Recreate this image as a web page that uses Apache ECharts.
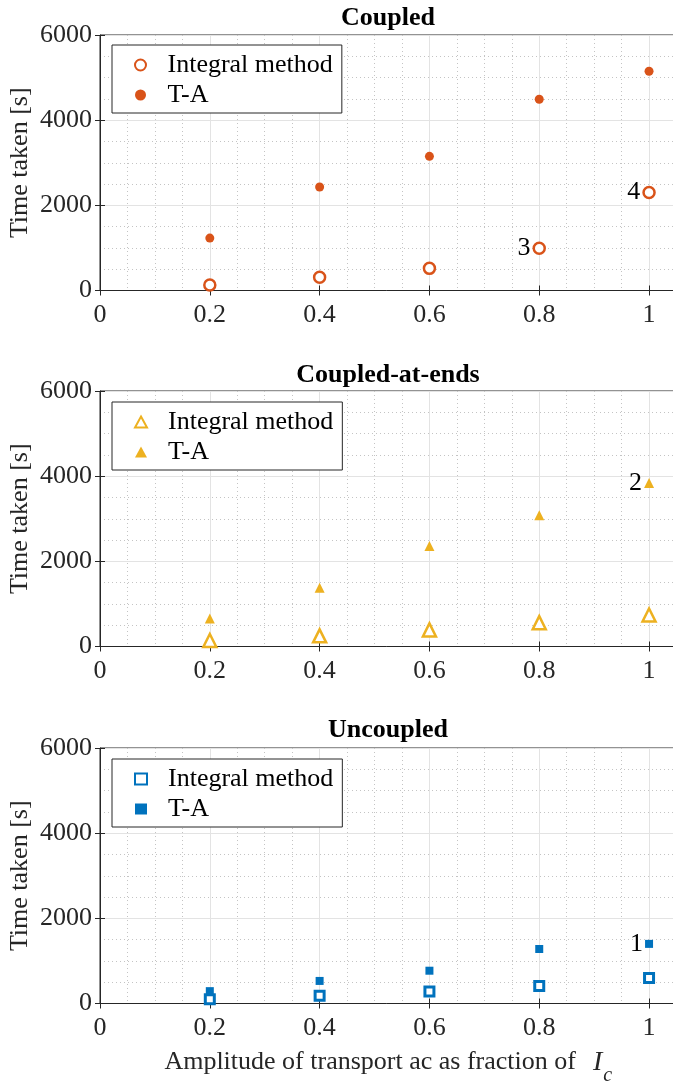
<!DOCTYPE html>
<html>
<head>
<meta charset="utf-8">
<script src="https://cdn.jsdelivr.net/npm/echarts@6/dist/echarts.min.js"></script>
<style>
  html, body { margin: 0; padding: 0; background: #fff; }
  #main { width: 673px; height: 1085px; }
</style>
</head>
<body>
<div id="main"></div>
<script>
// 数据
var xValues = [0.2, 0.4, 0.6, 0.8, 1.0];
var panelTitles = ['Coupled', 'Coupled-at-ends', 'Uncoupled'];
var seriesNames = ['Integral method', 'T-A'];

var coupledIntegral = [130, 310, 520, 990, 2300];
var coupledTA = [1230, 2430, 3150, 4490, 5150];
var endsIntegral = [140, 250, 390, 560, 740];
var endsTA = [660, 1380, 2360, 3080, 3840];
var uncoupledIntegral = [100, 180, 280, 410, 600];
var uncoupledTA = [290, 530, 770, 1280, 1400];

var yTicks = [0, 2000, 4000, 6000];
var xTicks = [0, 0.2, 0.4, 0.6, 0.8, 1];

// 数字标注: [面板, 系列, 点的序号, 文字]
var annotations = [
  [0, 0, 3, '3'],
  [0, 0, 4, '4'],
  [1, 1, 4, '2'],
  [2, 1, 4, '1']
];

var panelData = [
  [coupledIntegral, coupledTA],
  [endsIntegral, endsTA],
  [uncoupledIntegral, uncoupledTA]
];
var colors = ['#D95319', '#EDB120', '#0072BD'];
var symbols = [['circle', 'circle'], ['triangle', 'triangle'], ['rect', 'rect']];
var symbolSizes = [[11, 9], [13, 10], [9, 8]];
var hollowWidths = [2.5, 2.5, 3];

var FONT = "'Liberation Serif', 'DejaVu Serif', serif";
var gridTops = [35, 391, 748];
var legendTops = [45, 402, 759];
var titleTops = [5, 362, 717];

var myChart = echarts.init(document.getElementById('main'));

var grids = [], xAxes = [], yAxes = [], series = [], legends = [], titles = [];
for (var g = 0; g < 3; g++) {
  grids.push({
    left: 100, top: gridTops[g], width: 576.5, height: 255.5,
    outerBoundsMode: 'none', containLabel: false,
    show: true, borderColor: '#262626', borderWidth: 1, backgroundColor: 'transparent'
  });
  titles.push({
    text: panelTitles[g], left: 388, top: titleTops[g], textAlign: 'center', padding: 0,
    textStyle: { fontFamily: FONT, fontSize: 26, fontWeight: 'bold', color: '#000' }
  });
  // 次网格 x
  xAxes.push({
    type: 'value', gridIndex: g, position: 'bottom', min: 0, max: 1.05, interval: 0.05,
    axisLine: { show: false }, axisTick: { show: false }, axisLabel: { show: false },
    splitLine: { show: true, lineStyle: { color: '#c4c4c4', type: [1, 3], width: 1 } }
  });
  // 主 x 轴
  var mainX = {
    type: 'value', gridIndex: g, position: 'bottom', min: 0, max: 1.05, interval: 0.2,
    axisLine: { show: true, lineStyle: { color: '#262626', width: 1 } },
    axisTick: { show: true, inside: true, length: 5, lineStyle: { color: '#262626' } },
    axisLabel: {
      fontFamily: FONT, fontSize: 26, color: '#262626', margin: 12,
      formatter: function (v) {
        for (var i = 0; i < xTicks.length; i++) {
          if (Math.abs(v - xTicks[i]) < 1e-6) return String(xTicks[i]);
        }
        return '';
      }
    },
    splitLine: { show: true, lineStyle: { color: '#e3e3e3', width: 1 } }
  };
  if (g === 2) {
    mainX.name = '{t|Amplitude of transport ac as fraction of  }{i|I}{s|c}';
    mainX.nameLocation = 'middle';
    mainX.nameGap = 36;
    mainX.nameMoveOverlap = false;
    mainX.nameTextStyle = {
      fontFamily: FONT, fontSize: 26, color: '#262626',
      rich: {
        t: { fontFamily: FONT, fontSize: 26, color: '#262626' },
        i: { fontFamily: FONT, fontSize: 28, fontStyle: 'italic', color: '#262626', padding: [0, 0, 0, 4] },
        s: { fontFamily: FONT, fontSize: 20, fontStyle: 'italic', color: '#262626', padding: [26, 0, 0, 1] }
      }
    };
  }
  xAxes.push(mainX);
  // 顶部刻度
  xAxes.push({
    type: 'value', gridIndex: g, position: 'top', min: 0, max: 1.05, interval: 0.2,
    axisLine: { show: false }, axisLabel: { show: false }, splitLine: { show: false },
    axisTick: { show: true, inside: true, length: 5, lineStyle: { color: '#262626' } }
  });

  // 次网格 y
  yAxes.push({
    type: 'value', gridIndex: g, position: 'left', min: 0, max: 6000, interval: 500,
    axisLine: { show: false }, axisTick: { show: false }, axisLabel: { show: false },
    splitLine: { show: true, lineStyle: { color: '#c4c4c4', type: [1, 3], width: 1 } }
  });
  yAxes.push({
    type: 'value', gridIndex: g, position: 'left', min: 0, max: 6000, interval: 2000,
    name: 'Time taken [s]', nameLocation: 'middle', nameGap: 67, nameMoveOverlap: false,
    nameTextStyle: { fontFamily: FONT, fontSize: 26, color: '#262626' },
    axisLine: { show: true, lineStyle: { color: '#262626', width: 1 } },
    axisTick: { show: true, inside: true, length: 5, lineStyle: { color: '#262626' } },
    axisLabel: {
      fontFamily: FONT, fontSize: 26, color: '#262626', margin: 8,
      formatter: function (v) { return yTicks.indexOf(v) >= 0 ? String(v) : ''; }
    },
    splitLine: { show: true, lineStyle: { color: '#e3e3e3', width: 1 } }
  });
  yAxes.push({
    type: 'value', gridIndex: g, position: 'right', min: 0, max: 6000, interval: 2000,
    axisLine: { show: false }, axisLabel: { show: false }, splitLine: { show: false },
    axisTick: { show: true, inside: true, length: 5, lineStyle: { color: '#262626' } }
  });

  for (var s = 0; s < 2; s++) {
    var vals = panelData[g][s];
    var data = [];
    for (var i = 0; i < xValues.length; i++) {
      var item = { value: [xValues[i], vals[i]] };
      annotations.forEach(function (a) {
        if (a[0] === g && a[1] === s && a[2] === i) {
          item.label = {
            show: true, formatter: a[3], position: 'left', distance: 2,
            fontFamily: FONT, fontSize: 26, color: '#000'
          };
        }
      });
      data.push(item);
    }
    series.push({
      name: seriesNames[s] + (g > 0 ? ' ' + g : ''),
      type: 'scatter',
      xAxisIndex: g * 3 + 1,
      yAxisIndex: g * 3 + 1,
      symbol: symbols[g][s],
      symbolSize: symbolSizes[g][s],
      itemStyle: s === 0
        ? { color: '#fff', borderColor: colors[g], borderWidth: hollowWidths[g], opacity: 1 }
        : { color: colors[g], opacity: 1 },
      data: data,
      z: 5
    });
  }

  legends.push({
    data: [
      { name: seriesNames[0] + (g > 0 ? ' ' + g : '') },
      { name: seriesNames[1] + (g > 0 ? ' ' + g : '') }
    ],
    formatter: function (name) { return name.replace(/ \d$/, ''); },
    orient: 'vertical', left: 112, top: legendTops[g],
    itemWidth: 12, itemHeight: 11, itemGap: 4,
    padding: [7, 9, 5, 22],
    borderColor: '#262626', borderWidth: 1, backgroundColor: '#fff',
    selectedMode: false,
    textStyle: { fontFamily: FONT, fontSize: 26, lineHeight: 26, color: '#000', padding: [0, 0, 0, 16] }
  });
}

myChart.setOption({
  animation: false,
  title: titles,
  grid: grids,
  xAxis: xAxes,
  yAxis: yAxes,
  legend: legends,
  series: series
});
</script>
</body>
</html>
